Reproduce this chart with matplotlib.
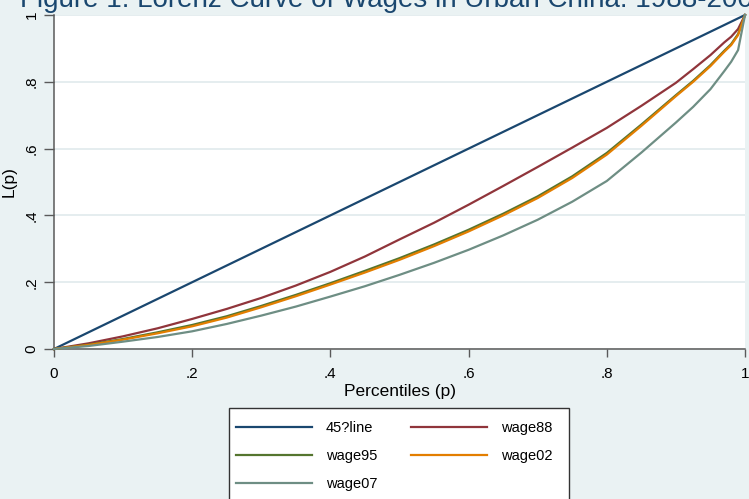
import matplotlib
matplotlib.use("Agg")
import matplotlib.pyplot as plt
from matplotlib.patches import Rectangle

plt.rcParams['font.family'] = ['Liberation Sans', 'DejaVu Sans']

# Data
p_line = [0.0, 1.0]
line45 = [0.0, 1.0]

p_pts = [0.0, 0.05, 0.1, 0.15, 0.2, 0.25, 0.3, 0.35, 0.4, 0.45, 0.5, 0.55, 0.6, 0.65,
         0.7, 0.75, 0.8, 0.85, 0.9, 0.925, 0.95, 0.97, 0.98, 0.99, 1.0]
wage88 = [0.0, 0.017, 0.038, 0.062, 0.090, 0.120, 0.153, 0.190, 0.231, 0.277, 0.328, 0.378, 0.432, 0.488,
          0.545, 0.603, 0.662, 0.728, 0.797, 0.838, 0.880, 0.918, 0.935, 0.958, 1.0]
wage95 = [0.0, 0.013, 0.030, 0.050, 0.072, 0.098, 0.129, 0.162, 0.197, 0.234, 0.272, 0.313, 0.357, 0.405,
          0.457, 0.517, 0.587, 0.672, 0.760, 0.803, 0.850, 0.893, 0.913, 0.943, 1.0]
wage02 = [0.0, 0.012, 0.028, 0.047, 0.068, 0.094, 0.125, 0.158, 0.193, 0.229, 0.267, 0.308, 0.352, 0.400,
          0.452, 0.512, 0.582, 0.668, 0.757, 0.800, 0.847, 0.890, 0.910, 0.940, 1.0]
wage07 = [0.0, 0.009, 0.022, 0.036, 0.053, 0.075, 0.100, 0.127, 0.157, 0.188, 0.222, 0.258, 0.297, 0.340,
          0.387, 0.441, 0.503, 0.588, 0.678, 0.725, 0.778, 0.832, 0.860, 0.895, 1.0]

labels = ["45?line", "wage88", "wage95", "wage02", "wage07"]
colors = ["#1a476f", "#90353b", "#55752f", "#e37e00", "#6e8e84"]

xticks = [0, 0.2, 0.4, 0.6, 0.8, 1.0]
xticklabels = ["0", ".2", ".4", ".6", ".8", "1"]
yticks = [0, 0.2, 0.4, 0.6, 0.8, 1.0]
yticklabels = ["0", ".2", ".4", ".6", ".8", "1"]

W, H = 749, 499
bg = "#eaf2f3"
fig = plt.figure(figsize=(W/100, H/100), dpi=100, facecolor=bg)
ax = fig.add_axes([54/W, 1 - 349/H, (745-54)/W, (349-15)/H])
ax.set_facecolor("white")

series = [(p_line, line45), (p_pts, wage88), (p_pts, wage95), (p_pts, wage02), (p_pts, wage07)]
handles = {}
for (xs, ys), lab, c in zip(series, labels, colors):
    h, = ax.plot(xs, ys, color=c, lw=1.6, label=lab, solid_joinstyle='round', clip_on=False, zorder=3)
    handles[lab] = h

ax.set_xlim(0, 1)
ax.set_ylim(0, 1)
ax.set_xticks(xticks)
ax.set_xticklabels(xticklabels)
ax.set_yticks(yticks)
ax.set_yticklabels(yticklabels, rotation=90, va='center')
ax.yaxis.grid(True, color="#e3ecee", lw=1.3, zorder=0)
ax.set_axisbelow(True)
for s in ['top', 'right']:
    ax.spines[s].set_visible(False)
for s in ['left', 'bottom']:
    ax.spines[s].set_color("#5a5a5a")
    ax.spines[s].set_linewidth(1.1)
ax.tick_params(axis='x', length=6, width=1, color="#5a5a5a", labelsize=11, pad=7)
ax.tick_params(axis='y', length=7, width=1, color="#5a5a5a", labelsize=11, pad=4)
ax.set_xlabel("Percentiles (p)", fontsize=12.5, labelpad=2)
ax.set_ylabel("L(p)", fontsize=12.5, labelpad=6)

fig.text(20/W, 1 - 7/H, "Figure 1: Lorenz Curve of Wages in Urban China: 1988-2007",
         fontsize=20, color="#1a476f", va='baseline', ha='left')

# legend frame (extends below the figure edge as in the reference)
frame = Rectangle((229/W, 1 - 510/H), (569-229)/W, (510-408)/H, transform=fig.transFigure,
                  facecolor="white", edgecolor="#333333", lw=1.0, zorder=1)
fig.add_artist(frame)

# column-major order so rows read: 45?line, wage88 / wage95, wage02 / wage07
order = ["45?line", "wage95", "wage07", "wage88", "wage02"]
leg = fig.legend(handles=[handles[k] for k in order], labels=order, ncol=2, loc='upper left',
                 bbox_to_anchor=(236/W, 1 - 421/H), fontsize=10.5,
                 frameon=False, handlelength=5.2, handletextpad=0.95, columnspacing=2.35,
                 labelspacing=0.95, borderpad=0, borderaxespad=0)
leg.set_zorder(2)

fig.savefig("out.png", dpi=100, facecolor=bg)
